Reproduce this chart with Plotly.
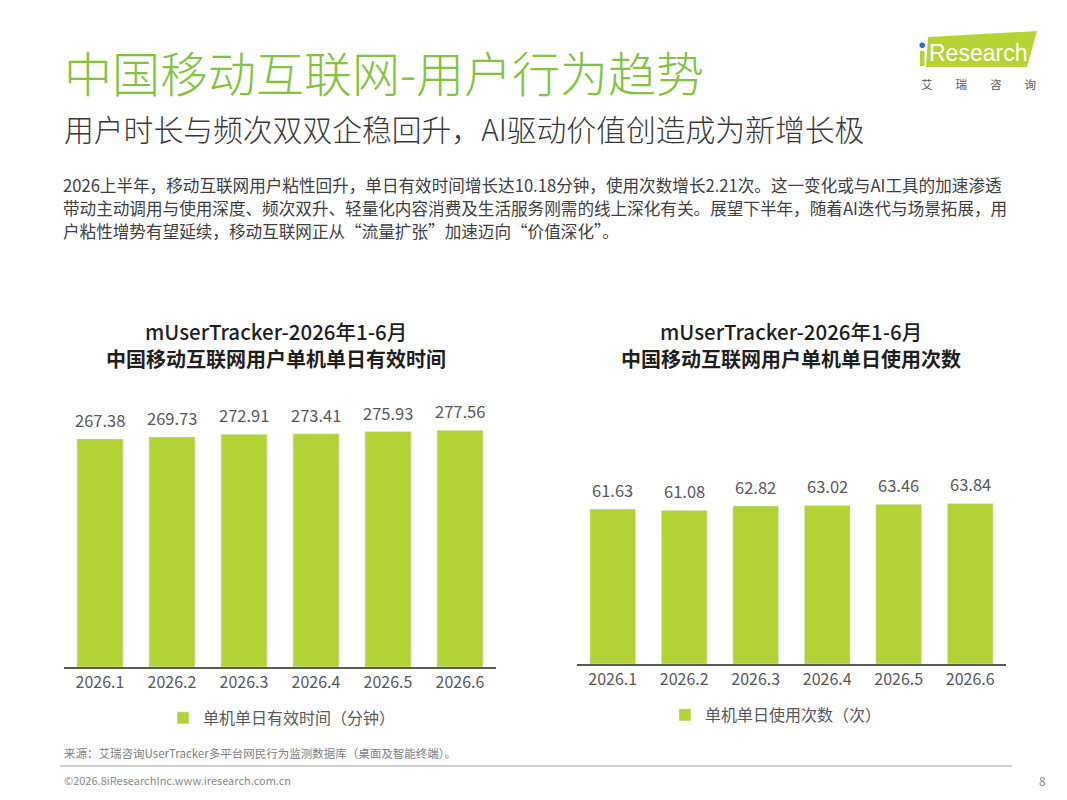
import plotly.graph_objects as go

months = ["2026.1", "2026.2", "2026.3", "2026.4", "2026.5", "2026.6"]
minutes = [267.38, 269.73, 272.91, 273.41, 275.93, 277.56]
times = [61.63, 61.08, 62.82, 63.02, 63.46, 63.84]

W, H = 1067, 800
GREEN = "#b2d235"
TITLE_GREEN = "#84c241"
GREY = "#595959"
FONT = "Noto Sans CJK SC"


def px(x):
    return x / W


def py(y):
    return 1 - y / H


fig = go.Figure()

fig.add_trace(go.Bar(
    x=months, y=minutes, name="单机单日有效时间（分钟）",
    marker_color=GREEN, width=0.64,
    xaxis="x", yaxis="y", legend="legend",
))
fig.add_trace(go.Bar(
    x=months, y=times, name="单机单日使用次数（次）",
    marker_color=GREEN, width=0.64,
    xaxis="x2", yaxis="y2", legend="legend2",
))

# value labels above bars (x given as category index)
for xa, ya, vals in [("x", "y", minutes), ("x2", "y2", times)]:
    for i, v in enumerate(vals):
        fig.add_annotation(x=i, y=v, xref=xa, yref=ya, xanchor="center", yanchor="bottom",
                           yshift=5, text="%.2f" % v, showarrow=False,
                           font=dict(size=16.5, color=GREY, family=FONT))

axis_x = dict(type="category", categoryarray=months, range=[-0.5, len(months) - 0.5],
              showgrid=False, showline=True, linecolor="#595959", linewidth=1.5,
              ticks="", tickfont=dict(size=16, color=GREY, family=FONT), fixedrange=True,
              automargin=False)
axis_y = dict(showgrid=False, showline=False, showticklabels=False, zeroline=False, fixedrange=True,
              automargin=False)

fig.update_layout(
    width=W, height=H,
    margin=dict(l=0, r=0, t=0, b=0),
    paper_bgcolor="white", plot_bgcolor="white",
    font=dict(family=FONT, color=GREY),
    bargap=0.36,
    xaxis=dict(axis_x, domain=[px(64), px(496)], anchor="y"),
    yaxis=dict(axis_y, domain=[py(667), py(400)], range=[0, 313], anchor="x"),
    xaxis2=dict(axis_x, domain=[px(577), px(1006)], anchor="y2"),
    yaxis2=dict(axis_y, domain=[py(664), py(460)], range=[0, 81.1], anchor="x2"),
    legend=dict(x=px(282), y=py(718), xanchor="center", yanchor="middle",
                orientation="h", font=dict(size=16, color=GREY, family=FONT),
                itemwidth=30, bgcolor="rgba(0,0,0,0)"),
    legend2=dict(x=px(776), y=py(715), xanchor="center", yanchor="middle",
                 orientation="h", font=dict(size=16, color=GREY, family=FONT),
                 itemwidth=30, bgcolor="rgba(0,0,0,0)"),
    showlegend=True,
)

# page title and text block
fig.add_annotation(x=px(62), y=py(71), xref="paper", yref="paper", xanchor="left", yanchor="middle",
                   text="中国移动互联网-用户行为趋势", showarrow=False,
                   font=dict(size=48, color=TITLE_GREEN, family=FONT, weight=300))
fig.add_annotation(x=px(62), y=py(128), xref="paper", yref="paper", xanchor="left", yanchor="middle",
                   text="用户时长与频次双双企稳回升，AI驱动价值创造成为新增长极", showarrow=False,
                   font=dict(size=29.8, color="#3a3a3a", family=FONT, weight=300))
para = ["2026上半年，移动互联网用户粘性回升，单日有效时间增长达10.18分钟，使用次数增长2.21次。这一变化或与AI工具的加速渗透",
        "带动主动调用与使用深度、频次双升、轻量化内容消费及生活服务刚需的线上深化有关。展望下半年，随着AI迭代与场景拓展，用",
        "户粘性增势有望延续，移动互联网正从“流量扩张”加速迈向“价值深化”。"]
for i, line in enumerate(para):
    fig.add_annotation(x=px(61), y=py(185 + 23 * i), xref="paper", yref="paper",
                       xanchor="left", yanchor="middle", text=line, showarrow=False,
                       font=dict(size=16.6, color="#404040", family=FONT))

# chart titles
chart_titles = [("mUserTracker-2026年1-6月", "中国移动互联网用户单机单日有效时间", 276),
                ("mUserTracker-2026年1-6月", "中国移动互联网用户单机单日使用次数", 791)]
for t1, t2, cx in chart_titles:
    fig.add_annotation(x=px(cx), y=py(331), xref="paper", yref="paper", xanchor="center", yanchor="middle",
                       text=t1, showarrow=False,
                       font=dict(size=20.5, color="#1f1f1f", family=FONT, weight=500))
    fig.add_annotation(x=px(cx), y=py(358.5), xref="paper", yref="paper", xanchor="center", yanchor="middle",
                       text="<b>%s</b>" % t2, showarrow=False, font=dict(size=20, color="#1f1f1f", family=FONT))

# footer
fig.add_annotation(x=px(62), y=py(753), xref="paper", yref="paper", xanchor="left", yanchor="middle",
                   text="来源：艾瑞咨询UserTracker多平台网民行为监测数据库（桌面及智能终端）。", showarrow=False,
                   font=dict(size=11.5, color="#7f7f7f", family=FONT))
fig.add_shape(type="line", xref="paper", yref="paper", x0=px(60), x1=px(1012), y0=py(766), y1=py(766),
              line=dict(color="#bfbfbf", width=1.5))
fig.add_annotation(x=px(62), y=py(780), xref="paper", yref="paper", xanchor="left", yanchor="middle",
                   text="©2026.8iResearchInc.www.iresearch.com.cn", showarrow=False,
                   font=dict(size=11, color="#8c8c8c", family=FONT))
fig.add_annotation(x=px(1048), y=py(780), xref="paper", yref="paper", xanchor="right", yanchor="middle",
                   text="8", showarrow=False, font=dict(size=12, color="#8c8c8c", family=FONT))

# logo
fig.add_shape(type="path", xref="paper", yref="paper",
              path="M %f %f L %f %f L %f %f L %f %f Z" % (px(928), py(37), px(1037), py(31),
                                                      px(1027), py(67), px(926), py(67)),
              fillcolor="#b5d334", line=dict(width=0))
fig.add_shape(type="rect", xref="paper", yref="paper",
              x0=px(920), x1=px(924.5), y0=py(66), y1=py(51),
              fillcolor="#b5d334", line=dict(width=0))
fig.add_shape(type="circle", xref="paper", yref="paper",
              x0=px(919.5), x1=px(925), y0=py(48), y1=py(42.5),
              fillcolor="#2b6cb0", line=dict(width=0))
fig.add_annotation(x=px(978), y=py(53), xref="paper", yref="paper", xanchor="center", yanchor="middle",
                   text="Research", showarrow=False, font=dict(size=23, color="white", family="Liberation Sans"))
fig.add_annotation(x=px(978), y=py(84), xref="paper", yref="paper", xanchor="center", yanchor="middle",
                   text="艾　　瑞　　咨　　询", showarrow=False, font=dict(size=11.5, color="#595959", family=FONT))

fig.write_html("out.html", config={"displayModeBar": False},
               post_script="document.body.style.margin='0';")
